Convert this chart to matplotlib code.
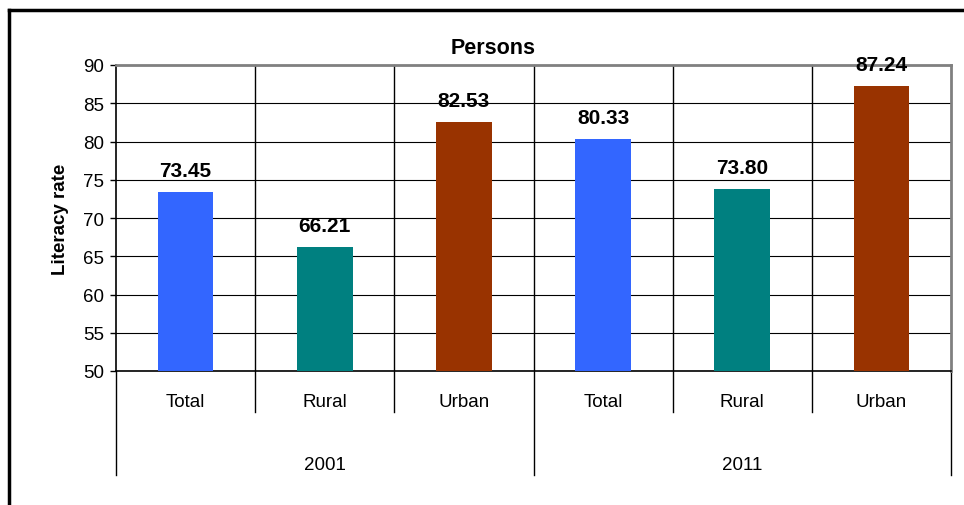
import matplotlib
matplotlib.use("Agg")
import matplotlib.pyplot as plt
from matplotlib.lines import Line2D
import matplotlib.transforms as mtransforms

plt.rcParams['font.family'] = ['Liberation Sans', 'DejaVu Sans']

# data
categories = ["Total", "Rural", "Urban", "Total", "Rural", "Urban"]
years = ["2001", "2011"]
values = [73.45, 66.21, 82.53, 80.33, 73.80, 87.24]
colors = ["#3366FF", "#008080", "#993300", "#3366FF", "#008080", "#993300"]

fig = plt.figure(figsize=(9.64, 5.06), dpi=100)
ax = fig.add_axes([116 / 964, 1 - 372 / 506, (951 - 116) / 964, (372 - 66) / 506])

x = list(range(len(values)))
ax.bar(x, [v - 50 for v in values], bottom=50, width=0.40, color=colors, zorder=3)

for xi, v in zip(x, values):
    ax.annotate(f"{v:.2f}", (xi, v), xytext=(0, 11.5), textcoords="offset points",
                ha="center", va="baseline", fontsize=15, fontweight="bold", zorder=4,
                annotation_clip=False)

ax.set_xlim(-0.5, len(values) - 0.5)
ax.set_ylim(50, 90)
ax.set_yticks(range(50, 91, 5))
ax.tick_params(axis="y", direction="out", length=4.5, width=1, labelsize=13.5, pad=4)
ax.set_xticks([])
ax.yaxis.grid(True, color="black", linewidth=0.8, zorder=0)
ax.set_axisbelow(True)

ax.spines["left"].set_color("black")
ax.spines["bottom"].set_color("black")
ax.spines["left"].set_linewidth(1.2)
ax.spines["bottom"].set_linewidth(1.2)
ax.spines["top"].set_color("#808080")
ax.spines["right"].set_color("#808080")
ax.spines["top"].set_linewidth(2)
ax.spines["right"].set_linewidth(2)

ax.set_ylabel("Literacy rate", fontsize=13.5, fontweight="bold", labelpad=10)

# separators and two-level category labels
trans = mtransforms.blended_transform_factory(ax.transData, ax.transAxes)
for i in range(len(values) + 1):
    xs = i - 0.5
    outer = (i % 3 == 0)
    y_low = -0.340 if outer else -0.134
    y_high = 0 if i in (0, len(values)) else 1
    ax.plot([xs, xs], [y_low, y_high], color="black", linewidth=1.0,
            transform=trans, clip_on=False, zorder=2)

for xi, c in zip(x, categories):
    ax.text(xi, -0.100, c, transform=trans, ha="center", va="center", fontsize=13.5)

for j, yr in enumerate(years):
    ax.text(j * 3 + 1, -0.307, yr, transform=trans, ha="center", va="center", fontsize=13.5)

fig.text(493 / 964, 1 - 48 / 506, "Persons", ha="center", va="center",
         fontsize=15.5, fontweight="bold")

# chart border (top and left visible)
fig.add_artist(Line2D([9 / 964, 1], [1 - 11 / 506, 1 - 11 / 506], color="black",
                      linewidth=2.5, transform=fig.transFigure))
fig.add_artist(Line2D([9 / 964, 9 / 964], [0, 1 - 11 / 506], color="black",
                      linewidth=2.5, transform=fig.transFigure))

fig.savefig("out.png", dpi=100, facecolor="white")
